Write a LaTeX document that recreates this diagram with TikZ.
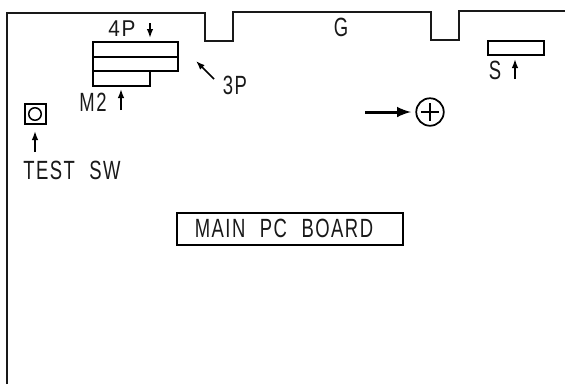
\documentclass[tikz,border=0pt]{standalone}
\usepackage{fontspec}
\setmainfont[LetterSpace=8,WordSpace=2.2]{Liberation Sans}
\usetikzlibrary{arrows.meta}
\tikzset{
	lbl/.style={inner sep=0pt,transform shape,xscale=0.7,font=\fontsize{15}{15}\selectfont,text=black!90},
	part/.style={draw,line width=0.45mm,inner sep=0pt,minimum height=2.9mm},
	ptr/.style={-{Latex[length=1.8mm,width=1.3mm]},line width=0.3mm}
}
\begin{document}
\begin{tikzpicture}[x=0.2mm,y=-0.2mm]
		\useasboundingbox (0,0) rectangle (565,384);
		
		\draw[line width=0.5mm,black!90] (7,384) -- (7,13) -- (205,13) -- (205,41) -- (233,41) -- (233,12) -- (431,12) -- (431,40) -- (459,40) -- (459,11) -- (565,11);
		
		\node[part,minimum width=17mm,anchor=north west] (c1) at (92,41) {};
		\node[part,minimum width=17mm,anchor=north west] (c2) at (92,55.5) {};
		\node[part,minimum width=11.4mm,anchor=north west] (m2) at (92,70) {};
		\node[part,minimum width=11.2mm,anchor=north west] (s) at (487,39.5) {};
		\node[part,minimum width=4.2mm,minimum height=3.9mm,line width=0.4mm] (sw) at (35,114) {};
		\node[draw,circle,line width=0.3mm,inner sep=0pt,minimum size=2.5mm] (swc) at (35,114) {};
		\node[draw,circle,line width=0.35mm,inner sep=0pt,minimum size=5.5mm] (hole) at (430,112) {};
		\node[draw,line width=0.45mm,inner sep=0pt,minimum width=45.3mm,minimum height=6.3mm] (board) at (290,229) {};
		
		\node[lbl,xscale=1.3,font=\fontsize{13}{13}\selectfont] (l4p) at (122,29) {4P};
		\node[lbl] (lm2) at (93,102) {M2};
		\node[lbl] (l3p) at (235,85) {3P};
		\node[lbl] (lg) at (341,27) {G};
		\node[lbl] (ls) at (495,70) {S};
		\node[lbl] (ltest) at (72,170) {TEST SW};
		\node[lbl] (lboard) at (284,228) {MAIN PC BOARD};
		
		\coordinate (a1) at (150,23);
		\coordinate (a2) at (150,38);
		\coordinate (b1) at (121,110);
		\coordinate (b2) at (121,89);
		\coordinate (d1) at (214,79);
		\coordinate (d2) at (196,61);
		\coordinate (e1) at (515,79);
		\coordinate (e2) at (515,59);
		\coordinate (f1) at (35,152);
		\coordinate (f2) at (35,131);
		\coordinate (g1) at (365,112);
		\coordinate (g2) at (411,112);
		
		\draw[line width=0.25mm] (421,112) -- (439,112);
		\draw[line width=0.25mm] (430,103) -- (430,121);
		
		\draw[ptr] (a1) -- (a2);
		\draw[ptr] (b1) -- (b2);
		\draw[ptr] (d1) -- (d2);
		\draw[ptr] (e1) -- (e2);
		\draw[ptr] (f1) -- (f2);
		\draw[-latex,line width=0.6mm] (g1) -- (g2);
		\end{tikzpicture}
\end{document}
